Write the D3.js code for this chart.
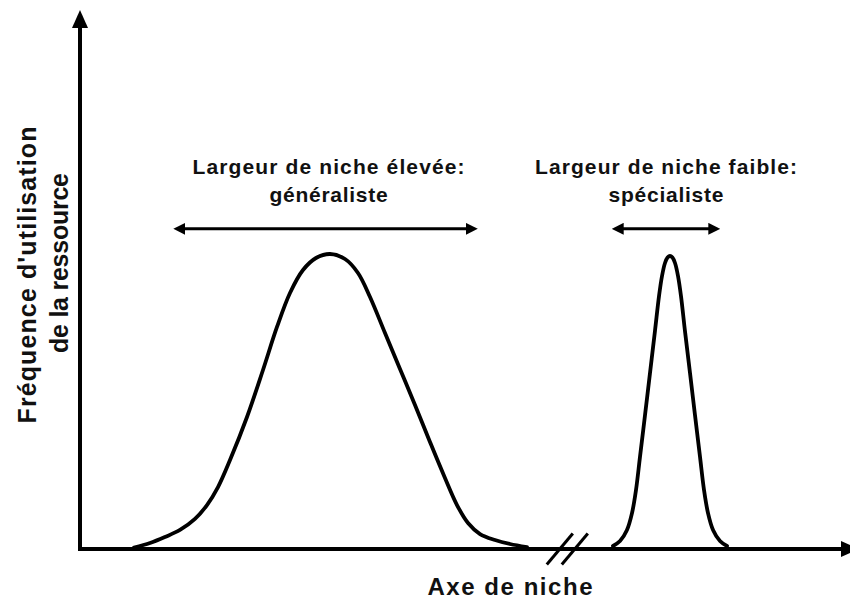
<!DOCTYPE html>
<html>
<head>
<meta charset="utf-8">
<script src="https://cdn.jsdelivr.net/npm/d3@7"></script>
<style>
  html, body { margin: 0; padding: 0; background: #fff; }
  svg { display: block; }
  text { font-family: "Liberation Sans", Arial, sans-serif; font-weight: bold; fill: #111; }
</style>
</head>
<body>
<svg id="chart" width="850" height="601"></svg>
<script>
// Niche positions (x) and resource-use frequencies (y) of the generalist curve
const generalistX = [7.06, 9.15, 11.11, 13.07, 15.03, 16.60, 18.04, 19.61, 21.83, 23.92, 25.75, 27.45, 29.15, 30.85, 32.68,
                     34.64, 36.34, 37.91, 39.87, 41.83, 43.79, 45.75, 47.71, 49.28, 50.72, 52.29, 54.25, 56.21, 58.43];
const generalistY = [0.28, 1.11, 2.23, 3.53, 5.57, 8.16, 11.50, 16.51, 24.49, 33.21, 41.19, 47.50, 51.76, 53.99, 54.73,
                     53.80, 51.21, 46.75, 40.07, 33.40, 26.72, 19.85, 13.17, 8.16, 4.82, 2.78, 1.67, 0.93, 0.37];

// Same for the specialist curve
const specialistX = [69.67, 70.59, 71.50, 72.16, 72.68, 73.20, 73.86, 74.51, 75.16, 75.69, 76.08, 76.47, 76.80, 77.12,
                     77.45, 77.78, 78.17, 78.56, 79.08, 79.74, 80.39, 81.05, 81.57, 82.09, 82.75, 83.66, 84.58];
const specialistY = [0.56, 1.48, 3.53, 6.68, 10.95, 17.07, 24.86, 32.65, 40.45, 46.94, 50.65, 53.06, 54.08, 54.36,
                     54.08, 53.06, 50.65, 46.94, 40.45, 32.65, 24.86, 17.07, 10.95, 6.68, 3.53, 1.48, 0.56];

// Niche width spans shown by the double arrows
const spanNames = ["Largeur de niche élevée:", "Largeur de niche faible:"];
const spanSubtitles = ["généraliste", "spécialiste"];
const spanStart = [12.2, 69.5];
const spanEnd = [52.0, 83.7];
const spanLevel = 59.4;

// Position of the axis break
const axisBreak = 63.7;

const xTitle = "Axe de niche";
const yTitle = ["Fréquence d'utilisation", "de la ressource"];

const svg = d3.select("#chart");
const x = d3.scaleLinear().domain([0, 100]).range([80, 845]);
const y = d3.scaleLinear().domain([0, 100]).range([549, 10]);

const defs = svg.append("defs");
defs.append("marker")
  .attr("id", "axisHead")
  .attr("viewBox", "0 0 18 16")
  .attr("refX", 1).attr("refY", 8)
  .attr("markerWidth", 18).attr("markerHeight", 16)
  .attr("markerUnits", "userSpaceOnUse")
  .attr("orient", "auto")
  .append("path").attr("d", "M0,0 L18,8 L0,16 Z").attr("fill", "#000");

defs.append("marker")
  .attr("id", "spanHead")
  .attr("viewBox", "0 0 12 12")
  .attr("refX", 1).attr("refY", 6)
  .attr("markerWidth", 12).attr("markerHeight", 12)
  .attr("markerUnits", "userSpaceOnUse")
  .attr("orient", "auto-start-reverse")
  .append("path").attr("d", "M0,0 L12,6 L0,12 Z").attr("fill", "#000");

// Axes with arrowheads
svg.append("line")
  .attr("x1", x(0)).attr("y1", y(0) + 2)
  .attr("x2", x(0)).attr("y2", y(100) + 17)
  .attr("stroke", "#000").attr("stroke-width", 4)
  .attr("marker-end", "url(#axisHead)");

svg.append("line")
  .attr("x1", x(0) - 2).attr("y1", y(0))
  .attr("x2", x(100) - 3).attr("y2", y(0))
  .attr("stroke", "#000").attr("stroke-width", 4)
  .attr("marker-end", "url(#axisHead)");

// Axis break marks
const bx = x(axisBreak), by = y(0);
[-7.5, 7.5].forEach(d => {
  svg.append("line")
    .attr("x1", bx + d - 13).attr("y1", by + 15.5)
    .attr("x2", bx + d + 13).attr("y2", by - 15.5)
    .attr("stroke", "#000").attr("stroke-width", 3);
});

// Curves
const line = d3.line()
  .x(d => x(d[0])).y(d => y(d[1]))
  .curve(d3.curveCatmullRom.alpha(0.5));

[[generalistX, generalistY], [specialistX, specialistY]].forEach(([xs, ys]) => {
  svg.append("path")
    .datum(d3.zip(xs, ys))
    .attr("d", line)
    .attr("fill", "none").attr("stroke", "#000")
    .attr("stroke-width", 3.8)
    .attr("stroke-linejoin", "round").attr("stroke-linecap", "round");
});

// Niche width arrows and labels
const titleLen = [272, 262];
const subLen = [118, 115];
spanNames.forEach((name, i) => {
  const x1 = x(spanStart[i]), x2 = x(spanEnd[i]), yy = y(spanLevel);
  svg.append("line")
    .attr("x1", x1 + 11).attr("y1", yy)
    .attr("x2", x2 - 11).attr("y2", yy)
    .attr("stroke", "#000").attr("stroke-width", 3)
    .attr("marker-start", "url(#spanHead)")
    .attr("marker-end", "url(#spanHead)");
  const cx = (x1 + x2) / 2 + (i === 0 ? 3 : 0);
  svg.append("text")
    .attr("x", cx).attr("y", yy - 55)
    .attr("text-anchor", "middle")
    .attr("font-size", 21)
    .attr("textLength", titleLen[i]).attr("lengthAdjust", "spacing")
    .text(name);
  svg.append("text")
    .attr("x", cx).attr("y", yy - 27)
    .attr("text-anchor", "middle")
    .attr("font-size", 21)
    .attr("textLength", subLen[i]).attr("lengthAdjust", "spacing")
    .text(spanSubtitles[i]);
});

// Axis titles
svg.append("text")
  .attr("x", 510).attr("y", 595)
  .attr("text-anchor", "middle")
  .attr("font-size", 24)
  .attr("textLength", 165).attr("lengthAdjust", "spacing")
  .text(xTitle);

const yLines = [
  { bx: 36, cy: 275, len: 297 },
  { bx: 68, cy: 263, len: 180 }
];
yTitle.forEach((t, i) => {
  svg.append("text")
    .attr("transform", `translate(${yLines[i].bx},${yLines[i].cy}) rotate(-90)`)
    .attr("text-anchor", "middle")
    .attr("font-size", 25)
    .attr("textLength", yLines[i].len).attr("lengthAdjust", "spacing")
    .text(t);
});
</script>
</body>
</html>
